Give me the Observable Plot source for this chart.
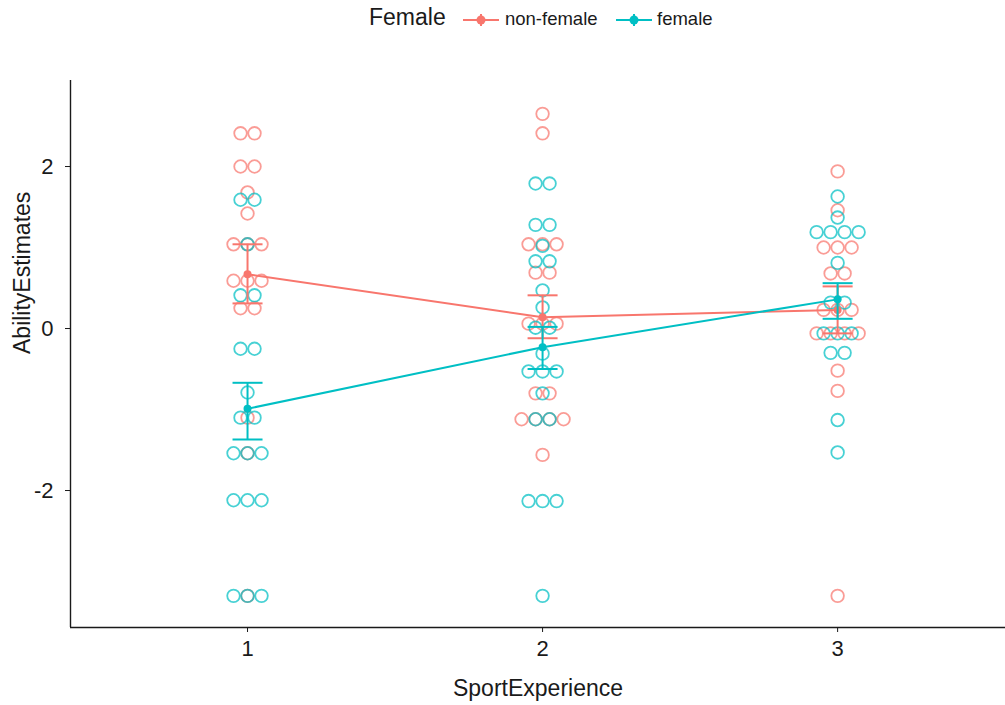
<!DOCTYPE html>
<html>
<head>
<meta charset="utf-8">
<script src="https://cdn.jsdelivr.net/npm/d3@7"></script>
<script src="https://cdn.jsdelivr.net/npm/@observablehq/plot@0.6"></script>
<style>
  body { margin: 0; background: #fff; font-family: "Liberation Sans", Arial, sans-serif; }
  #wrap { position: relative; width: 1005px; height: 705px; overflow: hidden; }
  #legend { position: relative; width: 1005px; height: 40px; color: #1a1a1a; }
  #legend .title { position: absolute; left: 369px; top: 4px; font-size: 23px; }
  #legend .lab { position: absolute; top: 8px; font-size: 18.5px; }
  #legend svg { position: absolute; top: 10px; }
</style>
</head>
<body>
<div id="wrap">
  <div id="legend"></div>
  <div id="chart"></div>
</div>
<script>
// ---- data ----
const sportExperience = [1, 2, 3];
const groupNames = ["non-female", "female"];
const groupColors = ["#F8766D", "#00BFC4"];

const nonFemaleSE1 = [2.41, 2.41, 2.0, 2.0, 1.68, 1.42, 1.04, 1.04, 1.04, 0.59, 0.59, 0.59, 0.25, 0.25, -1.10, -1.54, -3.30];
const nonFemaleSE2 = [2.65, 2.41, 1.04, 1.04, 1.04, 0.69, 0.69, 0.06, 0.06, 0.06, -0.80, -0.80, -1.12, -1.12, -1.12, -1.12, -1.56];
const nonFemaleSE3 = [1.94, 1.46, 1.0, 1.0, 1.0, 0.68, 0.68, 0.23, 0.23, 0.23, -0.06, -0.06, -0.06, -0.06, -0.52, -0.77, -3.30];

const femaleSE1 = [1.59, 1.59, 1.04, 0.41, 0.41, -0.25, -0.25, -0.79, -1.10, -1.10, -1.54, -1.54, -1.54, -2.12, -2.12, -2.12, -3.30, -3.30, -3.30];
const femaleSE2 = [1.79, 1.79, 1.28, 1.28, 1.02, 0.83, 0.83, 0.47, 0.26, 0.01, 0.01, -0.31, -0.53, -0.53, -0.53, -0.80, -1.12, -1.12, -2.13, -2.13, -2.13, -3.30];
const femaleSE3 = [1.63, 1.37, 1.19, 1.19, 1.19, 1.19, 0.81, 0.32, 0.32, -0.06, -0.06, -0.06, -0.30, -0.30, -1.13, -1.53];

const nonFemaleMean = [0.67, 0.14, 0.23];
const nonFemaleLow  = [0.31, -0.12, -0.06];
const nonFemaleHigh = [1.04, 0.41, 0.52];

const femaleMean = [-0.99, -0.23, 0.36];
const femaleLow  = [-1.37, -0.50, 0.12];
const femaleHigh = [-0.67, 0.02, 0.56];

const yTicks = [-2, 0, 2];
const xTicks = [1, 2, 3];

// ---- layout constants ----
const X_DOMAIN = [0.4, 3.569];
const Y_DOMAIN = [-3.691, 3.062];
const DOT_STEP = 14 / 295;   // one dot diameter in x units
const CAP_HALF = 15 / 295;   // half error-bar cap width in x units

function stackDots(values, se, group) {
  const counts = d3.rollup(values, v => v.length, d => d);
  const seen = new Map();
  return values.map(v => {
    const n = counts.get(v);
    const k = seen.get(v) ?? 0;
    seen.set(v, k + 1);
    return { se, value: v, group, slot: k - (n - 1) / 2 };
  });
}

const nonFemaleDots = [nonFemaleSE1, nonFemaleSE2, nonFemaleSE3]
  .flatMap((vals, i) => stackDots(vals, sportExperience[i], groupNames[0]));
const femaleDots = [femaleSE1, femaleSE2, femaleSE3]
  .flatMap((vals, i) => stackDots(vals, sportExperience[i], groupNames[1]));

const summary = (mean, low, high, group) =>
  sportExperience.map((se, i) => ({ se, mean: mean[i], low: low[i], high: high[i], group }));
const nonFemaleSummary = summary(nonFemaleMean, nonFemaleLow, nonFemaleHigh, groupNames[0]);
const femaleSummary = summary(femaleMean, femaleLow, femaleHigh, groupNames[1]);

const dotOpts = (color) => ({
  x: d => d.se + d.slot * DOT_STEP,
  y: "value",
  r: 6.3,
  fill: "none",
  stroke: color,
  strokeWidth: 1.8,
  strokeOpacity: 0.72
});

const summaryMarks = (data, color) => [
  Plot.line(data, { x: "se", y: "mean", stroke: color, strokeWidth: 2 }),
  Plot.ruleX(data, { x: "se", y1: "low", y2: "high", stroke: color, strokeWidth: 2 }),
  Plot.link(data, { x1: d => d.se - CAP_HALF, x2: d => d.se + CAP_HALF, y1: "low", y2: "low", stroke: color, strokeWidth: 2 }),
  Plot.link(data, { x1: d => d.se - CAP_HALF, x2: d => d.se + CAP_HALF, y1: "high", y2: "high", stroke: color, strokeWidth: 2 }),
  Plot.dot(data, { x: "se", y: "mean", r: 4, fill: color, stroke: "none" })
];

const chart = Plot.plot({
  width: 1005,
  height: 665,
  marginTop: 40,
  marginBottom: 78,
  marginLeft: 70,
  marginRight: 0,
  style: { fontFamily: "Liberation Sans, Arial, sans-serif", fontSize: "22px", color: "#1a1a1a", background: "#fff" },
  x: { domain: X_DOMAIN, label: null },
  y: { domain: Y_DOMAIN, label: null },
  marks: [
    Plot.dot(nonFemaleDots, dotOpts(groupColors[0])),
    Plot.dot(femaleDots, dotOpts(groupColors[1])),
    ...summaryMarks(nonFemaleSummary, groupColors[0]),
    ...summaryMarks(femaleSummary, groupColors[1]),
    Plot.ruleX([X_DOMAIN[0]], { stroke: "#1a1a1a", strokeWidth: 1.4 }),
    Plot.ruleY([Y_DOMAIN[0]], { stroke: "#1a1a1a", strokeWidth: 1.4 }),
    Plot.axisX({ ticks: xTicks, tickFormat: d => String(d), tickSize: 5, tickPadding: 8, label: null, fontSize: 22 }),
    Plot.axisY({ ticks: yTicks, tickFormat: d => String(d), tickSize: 5, tickPadding: 12, label: null, fontSize: 22 }),
    Plot.text(["SportExperience"], { frameAnchor: "bottom", lineAnchor: "middle", dy: 61, fontSize: 23, fill: "#1a1a1a" }),
    Plot.text(["AbilityEstimates"], { frameAnchor: "left", lineAnchor: "middle", rotate: -90, dx: -48, fontSize: 23, fill: "#1a1a1a" })
  ]
});
document.getElementById("chart").appendChild(chart);

// ---- legend (above the svg) ----
const legend = document.getElementById("legend");
const title = document.createElement("span");
title.className = "title";
title.textContent = "Female";
legend.appendChild(title);
const legendX = [[462, 505], [615, 657]];
groupNames.forEach((name, i) => {
  const sw = d3.create("svg").attr("width", 38).attr("height", 20)
    .style("left", legendX[i][0] + "px");
  sw.append("line").attr("x1", 1).attr("x2", 37).attr("y1", 10).attr("y2", 10)
    .attr("stroke", groupColors[i]).attr("stroke-width", 2);
  sw.append("line").attr("x1", 19).attr("x2", 19).attr("y1", 4).attr("y2", 16)
    .attr("stroke", groupColors[i]).attr("stroke-width", 2);
  sw.append("circle").attr("cx", 19).attr("cy", 10).attr("r", 4.5).attr("fill", groupColors[i]);
  legend.appendChild(sw.node());
  const lab = document.createElement("span");
  lab.className = "lab";
  lab.style.left = legendX[i][1] + "px";
  lab.textContent = name;
  legend.appendChild(lab);
});
</script>
</body>
</html>
